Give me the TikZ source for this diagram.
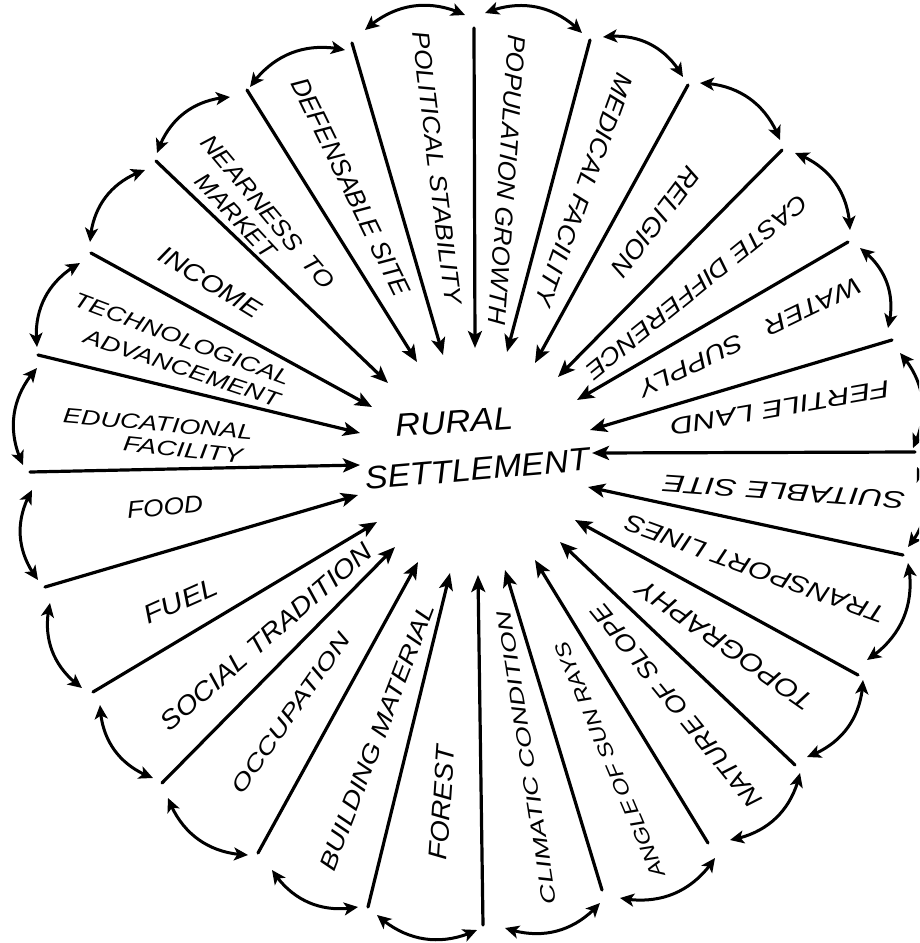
\documentclass[tikz,border=0pt]{standalone}
\usepackage{fontspec}
\setmainfont{Liberation Sans}
\usetikzlibrary{arrows.meta,bending}
\newcommand{\fitlbl}[3]{{\fontsize{#2}{#2}\selectfont\itshape\resizebox{#1pt}{\height}{#3}}}
\begin{document}
\begin{tikzpicture}[x=1pt,y=-1pt,
  spoke/.style={line width=3.2pt,line cap=round,-{Stealth[length=17pt,width=14pt,inset=4pt]}},
  link/.style={line width=3pt,line cap=round,{Stealth[length=14pt,width=13pt,inset=3.5pt]}-{Stealth[length=14pt,width=13pt,inset=3.5pt]},bend left=34},
  lbl/.style={inner sep=0pt}]
\useasboundingbox (0,0) rectangle (919,943);
\clip (0,0) rectangle (919,943);
% spokes: outer -> inner
\foreach \n/\ox/\oy/\ix/\iy in {
  1/474/28/475/348, 2/590/40/507/352, 3/688/85/535/363, 4/782/150/558/377,
  5/848/242/577/400, 6/892/340/590/430, 7/915/452/592/453, 8/903/555/588/487,
  9/858/675/575/520, 10/795/765/560/542, 11/708/843/535/560, 12/602/890/505/570,
  13/483/925/478/575, 14/368/907/450/573, 15/258/853/418/562, 16/162/783/395/547,
  17/93/692/377/522, 18/45/587/358/495, 19/30/472/360/465, 20/38/355/360/433,
  21/91/253/372/407, 22/156/161/388/383, 23/247/90/417/362, 24/352/43/443/355}{
  \coordinate (o\n) at (\ox,\oy);
  \coordinate (i\n) at (\ix,\iy);
  \draw[spoke] (o\n) -- (i\n);
}
% outer double arrows (clockwise)
\foreach \n/\ax/\ay/\bx/\by in {
  1/365/30/465/15, 2/485/13/582/33, 3/603/37/683/77, 4/700/83/780/140,
  5/795/153/850/230, 6/860/248/888/328, 7/900/353/913/448, 8/917/467/908/547,
  9/908/563/867/660, 10/863/680/807/757, 11/800/773/730/840, 12/715/858/620/898,
  13/600/903/505/928, 14/477/930/377/915, 15/358/907/272/870, 16/248/855/168/798,
  17/153/778/100/705, 18/82/688/50/603, 19/38/580/32/490, 20/23/465/37/368,
  21/37/347/80/263, 22/90/242/145/170, 23/157/153/230/97, 24/250/87/345/50}{
  \coordinate (p\n) at (\ax,\ay);
  \coordinate (q\n) at (\bx,\by);
  \draw[link] (p\n) to (q\n);
}
% centre
\node[lbl,rotate=4] (rural) at (454,422) {\fitlbl{118}{32}{RURAL}};
\node[lbl,rotate=5] (settle) at (477,469) {\fitlbl{225}{32}{SETTLEMENT}};
% labels
\node[lbl,rotate=-83] (l1) at (437,168) {\fitlbl{275}{24}{POLITICAL STABILITY}};
\node[lbl,rotate=-94] (l2) at (507,180) {\fitlbl{290}{25}{POPULATION GROWTH}};
\node[lbl,rotate=-110] (l3) at (584,190) {\fitlbl{245}{25}{MEDICAL FACILITY}};
\node[lbl,rotate=-127] (l4) at (656,222) {\fitlbl{130}{26}{RELIGION}};
\node[lbl,rotate=-141] (l5) at (697,287) {\fitlbl{278}{24}{CASTE DIFFERENCE}};
\node[lbl,rotate=-154] (l6) at (750,337) {\fitlbl{244}{24}{WATER\hspace{0.9em}SUPPLY}};
\node[lbl,rotate=-170] (l7) at (780,408) {\fitlbl{222}{24}{FERTILE LAND}};
\node[lbl,rotate=176] (l8) at (784,492) {\fitlbl{243}{24}{SUITABLE SITE}};
\node[lbl,rotate=160] (l9) at (755,569) {\fitlbl{275}{24}{TRANSPORT LINES}};
\node[lbl,rotate=145] (l10) at (725,645) {\fitlbl{209}{26}{TOPOGRAPHY}};
\node[lbl,rotate=129] (l11) at (677,706) {\fitlbl{255}{25}{NATURE OF SLOPE}};
\node[lbl,rotate=113] (l12) at (610,760) {\fitlbl{254}{20}{ANGLE\,OF SUN RAYS}};
\node[lbl,rotate=99] (l13) at (527,758) {\fitlbl{296}{20}{CLIMATIC CONDITION}};
\node[lbl,rotate=86] (l14) at (442,803) {\fitlbl{115}{26}{FOREST}};
\node[lbl,rotate=69] (l15) at (377,737) {\fitlbl{283}{24}{BUILDING MATERIAL}};
\node[lbl,rotate=55] (l16) at (291,713) {\fitlbl{190}{22}{OCCUPATION}};
\node[lbl,rotate=41] (l17) at (266,637) {\fitlbl{271}{26}{SOCIAL TRADITION}};
\node[lbl,rotate=24] (l18) at (181,601) {\fitlbl{78}{26}{FUEL}};
\node[lbl,rotate=5] (l19) at (165,507) {\fitlbl{76}{24}{FOOD}};
\node[lbl,rotate=-5] (l20a) at (158,424) {\fitlbl{190}{21}{EDUCATIONAL}};
\node[lbl,rotate=-6] (l20b) at (183,450) {\fitlbl{120}{21}{FACILITY}};
\node[lbl,rotate=-20.6] (l21a) at (182,339) {\fitlbl{229}{21}{TECHNOLOGICAL}};
\node[lbl,rotate=-18.4] (l21b) at (182,368) {\fitlbl{205}{21}{ADVANCEMENT}};
\node[lbl,rotate=-31.5] (l22) at (210,282) {\fitlbl{115}{25}{INCOME}};
\node[lbl,rotate=-50] (l23a) at (268,212) {\fitlbl{193}{24}{NEARNESS\hspace{0.5em}TO}};
\node[lbl,rotate=-47] (l23b) at (236,216) {\fitlbl{106}{24}{MARKET}};
\node[lbl,rotate=-64] (l24) at (351,187) {\fitlbl{240}{26}{DEFENSABLE SITE}};
\end{tikzpicture}
\end{document}
